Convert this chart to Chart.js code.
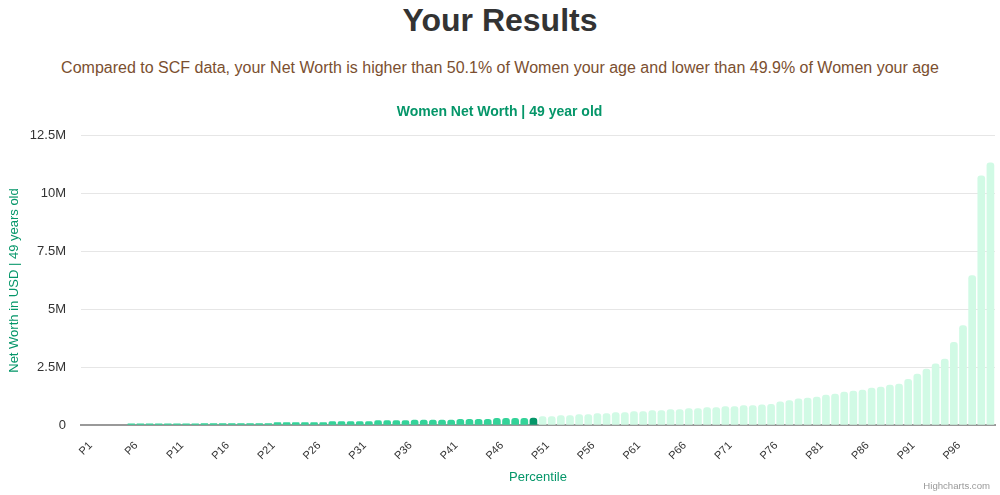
<!DOCTYPE html>
<html>
<head>
    <title>Your Results</title>
    <script src="https://cdn.jsdelivr.net/npm/chart.js"></script>
    <style>
        html, body { margin: 0; padding: 0; background: #fff; }
        body { width: 1000px; height: 495px; position: relative; overflow: hidden;
               font-family: "Liberation Sans", Arial, Helvetica, sans-serif; }
        h1 { position: absolute; top: 0; left: 0; width: 1000px; margin: 0;
             text-align: center; font-size: 32px; line-height: 40px; color: #333; font-weight: bold; }
        .subtitle { position: absolute; top: 57px; left: 0; width: 1000px; margin: 0;
                    text-align: center; font-size: 16px; line-height: 22px; color: #7b4f30; }
        .chart-box { position: absolute; top: 0; left: 0; width: 1000px; height: 495px; }
        .credits { position: absolute; right: 10px; top: 480px; font-size: 9.6px; color: #999; }
    </style>
</head>
<body>
    <h1>Your Results</h1>
    <p class="subtitle">Compared to SCF data, your Net Worth is higher than 50.1% of Women your age and lower than 49.9% of Women your age</p>
    <div class="chart-box"><canvas id="netWorthChart"></canvas></div>
    <div class="credits">Highcharts.com</div>

<script>
    // percentiles P1..P100
    const percentiles = [];
    for (let i = 1; i <= 100; i++) percentiles.push('P' + i);

    // net worth per percentile, millions of USD
    const netWorthMillions = [
        0, 0, 0, 0, 0,
        0.07, 0.07, 0.07, 0.07, 0.07, 0.07, 0.07, 0.07,
        0.09, 0.09, 0.09, 0.09, 0.09, 0.09, 0.09, 0.09,
        0.13, 0.13, 0.13, 0.13, 0.13, 0.13,
        0.17, 0.17, 0.17, 0.17, 0.17,
        0.215, 0.215, 0.215, 0.215,
        0.24, 0.24, 0.24, 0.24, 0.24,
        0.265, 0.265, 0.265, 0.265,
        0.31, 0.31, 0.31, 0.31,
        0.32,
        0.39, 0.39, 0.43, 0.43, 0.47, 0.47, 0.52, 0.52, 0.56, 0.56,
        0.60, 0.60, 0.65, 0.65, 0.69, 0.69, 0.73, 0.73, 0.78, 0.78,
        0.82, 0.82, 0.86, 0.86, 0.90,
        0.92, 1.02, 1.08, 1.15, 1.19, 1.23, 1.32, 1.36, 1.45, 1.49,
        1.53, 1.62, 1.66, 1.75, 1.79, 2.0, 2.22, 2.44, 2.67, 2.87,
        3.59, 4.32, 6.48, 10.79, 11.35
    ];

    const userIndex = 49;   // P50, the user's position
    const yTicks = [0, 2.5, 5, 7.5, 10, 12.5];
    const yTickLabels = ['0', '2.5M', '5M', '7.5M', '10M', '12.5M'];

    const barColors = netWorthMillions.map((v, i) =>
        i < userIndex ? '#34d399' : (i === userIndex ? '#059669' : '#d1fae5'));

    const fontFamily = '"Liberation Sans", Arial, Helvetica, sans-serif';

    new Chart(document.getElementById('netWorthChart').getContext('2d'), {
        type: 'bar',
        data: {
            labels: percentiles,
            datasets: [{
                data: netWorthMillions,
                backgroundColor: barColors,
                borderRadius: 3,
                categoryPercentage: 1,
                barPercentage: 0.84
            }]
        },
        options: {
            responsive: true,
            maintainAspectRatio: false,
            animation: false,
            layout: { padding: { top: 104, left: 4, right: 5, bottom: 10 } },
            plugins: {
                legend: { display: false },
                tooltip: { enabled: false },
                title: {
                    display: true,
                    text: 'Women Net Worth | 49 year old',
                    color: '#059669',
                    font: { family: fontFamily, size: 14, weight: 'bold' },
                    padding: { top: 0, bottom: 15 }
                }
            },
            scales: {
                x: {
                    afterFit: axis => { axis.paddingLeft = 0; axis.paddingRight = 0; },
                    grid: { display: false },
                    border: { color: '#999', width: 2 },
                    ticks: {
                        autoSkip: false,
                        minRotation: 45,
                        maxRotation: 45,
                        padding: 6,
                        labelOffset: 5,
                        color: '#333',
                        font: { family: fontFamily, size: 11 },
                        callback: (v, i) => (i % 5 === 0 ? percentiles[i] : '')
                    },
                    title: {
                        display: true,
                        text: 'Percentile',
                        color: '#059669',
                        font: { family: fontFamily, size: 13 },
                        padding: { top: 1, bottom: 0 }
                    }
                },
                y: {
                    min: 0,
                    max: 12.5,
                    afterBuildTicks: axis => { axis.ticks = yTicks.map(v => ({ value: v })); },
                    afterFit: axis => { axis.width = 77; },
                    grid: { color: '#e6e6e6', drawTicks: false },
                    border: { display: false },
                    ticks: {
                        color: '#333',
                        padding: 15,
                        font: { family: fontFamily, size: 13 },
                        callback: v => yTickLabels[yTicks.indexOf(v)]
                    },
                    title: {
                        display: true,
                        text: 'Net Worth in USD | 49 years old',
                        color: '#059669',
                        font: { family: fontFamily, size: 13 },
                        padding: { top: 3, bottom: 6 }
                    }
                }
            }
        }
    });
</script>
</body>
</html>
